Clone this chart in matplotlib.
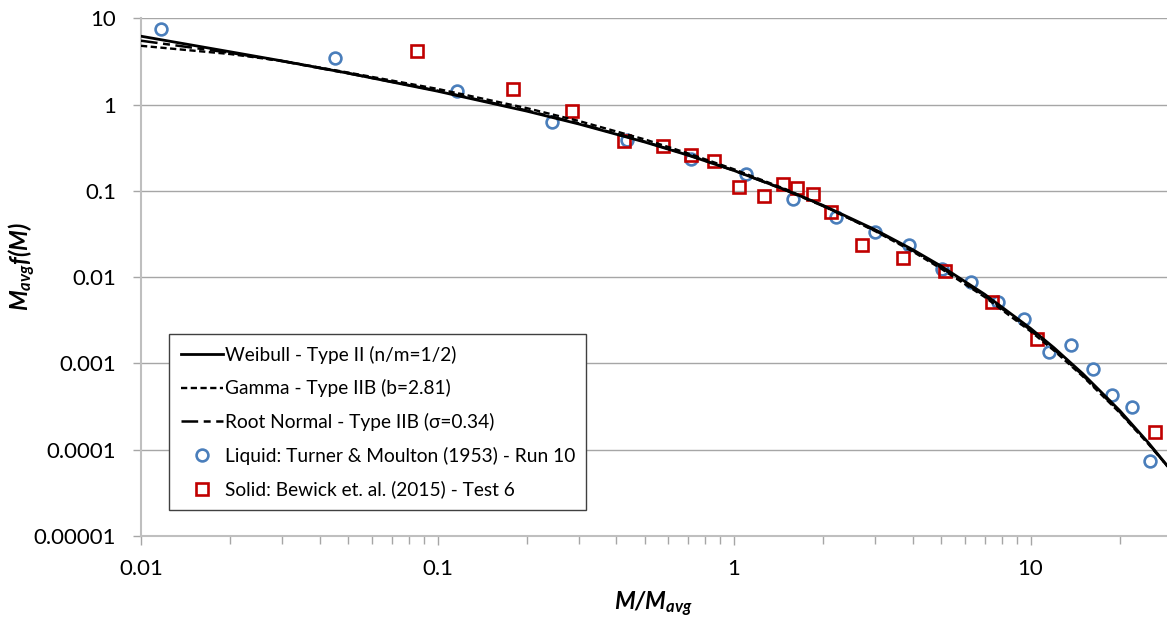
import matplotlib
matplotlib.use("Agg")
import matplotlib.pyplot as plt
from matplotlib.lines import Line2D

# ---------------- data ----------------
curve_x = [0.01, 0.02, 0.03, 0.05, 0.1, 0.2, 0.3, 0.5, 0.7, 1, 1.5, 2, 3, 4, 5, 7,
           10, 12, 15, 20, 25, 29]
weibull_y = [6.2, 4.09, 3.2, 2.31, 1.43, 0.84, 0.595, 0.368, 0.259, 0.172, 0.102,
             0.0677, 0.0353, 0.0209, 0.0134, 0.00634, 0.00255, 0.00152, 0.000762,
             0.000284, 0.000120, 0.0000646]
gamma_y = [4.8, 3.85, 3.2, 2.35, 1.52, 0.91, 0.645, 0.395, 0.272, 0.178, 0.104,
           0.067, 0.0340, 0.0199, 0.0125, 0.0059, 0.00236, 0.00141, 0.00071,
           0.000268, 0.000116, 0.0000640]
rootnormal_y = [5.5, 3.98, 3.18, 2.30, 1.45, 0.855, 0.605, 0.372, 0.261, 0.172, 0.101,
                0.0665, 0.0345, 0.0204, 0.0129, 0.0061, 0.00244, 0.00146, 0.00073,
                0.000274, 0.000118, 0.0000640]

liquid_x = [0.0117, 0.0451, 0.1165, 0.243, 0.4365, 0.7145, 1.098, 1.585, 2.203, 2.99,
            3.90, 5.04, 6.30, 7.79, 9.53, 11.52, 13.66, 16.21, 18.88, 21.94, 25.3]
liquid_y = [7.58, 3.50, 1.449, 0.634, 0.389, 0.234, 0.1557, 0.0806, 0.0502, 0.0337,
            0.0236, 0.01235, 0.00887, 0.0052, 0.00328, 0.00137, 0.00164, 0.000864,
            0.000435, 0.000313, 0.0000736]

solid_x = [0.0851, 0.180, 0.285, 0.4266, 0.5746, 0.7145, 0.856, 1.037, 1.265, 1.466,
           1.635, 1.842, 2.124, 2.708, 3.724, 5.15, 7.41, 10.54, 26.3]
solid_y = [4.18, 1.504, 0.850, 0.382, 0.3314, 0.2627, 0.2203, 0.1119, 0.0873, 0.1193,
           0.1072, 0.0928, 0.0565, 0.0238, 0.01656, 0.0118, 0.0052, 0.001907, 0.000162]

labels = ["Weibull - Type II (n/m=1/2)",
          "Gamma - Type IIB (b=2.81)",
          "Root Normal - Type IIB (\u03c3=0.34)",
          "Liquid: Turner & Moulton (1953) - Run 10",
          "Solid: Bewick et. al. (2015) - Test 6"]
ytick_vals = [1e-5, 1e-4, 1e-3, 1e-2, 1e-1, 1, 10]
ytick_labels = ["0.00001", "0.0001", "0.001", "0.01", "0.1", "1", "10"]
xtick_vals = [0.01, 0.1, 1, 10]
xtick_labels = ["0.01", "0.1", "1", "10"]

# ---------------- style ----------------
plt.rcParams['font.family'] = ['Lato', 'DejaVu Sans']
plt.rcParams['mathtext.fontset'] = 'custom'
plt.rcParams['mathtext.rm'] = 'Lato'
plt.rcParams['mathtext.it'] = 'Lato:italic'
plt.rcParams['mathtext.bf'] = 'Lato:bold'
plt.rcParams['mathtext.bfit'] = 'Lato:bold:italic'
plt.rcParams['lines.scale_dashes'] = False

W, H, DPI = 1167, 628, 100
fig = plt.figure(figsize=(W / DPI, H / DPI), dpi=DPI)
L, R, T, B = 141, 1167, 18.3, 536
ax = fig.add_axes([L / W, 1 - B / H, (R - L) / W, (B - T) / H])
ax.set_xscale('log')
ax.set_yscale('log')
ax.set_xlim(0.01, 10 ** (-2 + (R - L) / 296.5))
ax.set_ylim(1e-5, 10)

grid_c = '#a6a6a6'
ax.yaxis.grid(True, which='major', color=grid_c, lw=1.0, zorder=0)
ax.xaxis.grid(False)
ax.set_axisbelow(True)
for s in ['top', 'right']:
    ax.spines[s].set_visible(False)
for s in ['left', 'bottom']:
    ax.spines[s].set_color('#bfbfbf')
    ax.spines[s].set_linewidth(1.5)

ax.set_yticks(ytick_vals)
ax.set_yticklabels(ytick_labels)
ax.yaxis.set_minor_locator(matplotlib.ticker.NullLocator())
ax.set_xticks(xtick_vals)
ax.set_xticklabels(xtick_labels)
ax.tick_params(axis='y', which='major', direction='out', length=6, width=1,
               color=grid_c, labelsize=16, pad=12)
ax.tick_params(axis='x', which='major', direction='out', length=6.5, width=1,
               color=grid_c, labelsize=16, pad=10)
ax.tick_params(axis='x', which='minor', direction='out', length=5.5, width=1,
               color=grid_c)
ax.xaxis.set_minor_formatter(matplotlib.ticker.NullFormatter())

blue = '#4a7ebb'
red = '#c00000'
ax.plot(liquid_x, liquid_y, ls='none', marker='o', ms=8.5, mew=1.9,
        mfc='none', mec=blue, zorder=3)
ax.plot(solid_x, solid_y, ls='none', marker='s', ms=8.5, mew=1.9,
        mfc='none', mec=red, zorder=4)
ax.plot(curve_x, rootnormal_y, color='black', lw=1.8, dashes=(12, 4, 5, 4), zorder=5)
ax.plot(curve_x, gamma_y, color='black', lw=1.7, dashes=(4.5, 2.5), zorder=5)
ax.plot(curve_x, weibull_y, color='black', lw=2.0, zorder=6)

ax.set_xlabel(r'$\mathbfit{M/M_{avg}}$', fontsize=17, labelpad=8)
ax.set_ylabel(r'$\mathbfit{M_{avg}f(M)}$', fontsize=17)
ax.yaxis.set_label_coords((38 - L) / (R - L), 0.52)

handles = [
    Line2D([], [], color='black', lw=2.0),
    Line2D([], [], color='black', lw=1.7, dashes=(4.5, 2.5)),
    Line2D([], [], color='black', lw=1.8, dashes=(12, 4, 5, 4)),
    Line2D([], [], ls='none', marker='o', ms=8.5, mew=1.9, mfc='none', mec=blue),
    Line2D([], [], ls='none', marker='s', ms=8.5, mew=1.9, mfc='none', mec=red),
]
leg = ax.legend(handles, labels, loc='lower left',
                bbox_to_anchor=((169 - L) / (R - L), (B - 510) / (B - T)),
                borderaxespad=0, fontsize=13.8, frameon=True, fancybox=False,
                edgecolor='#404040', framealpha=1, handlelength=2.2,
                handletextpad=0.1, labelspacing=0.82, borderpad=0.6)
leg.get_frame().set_linewidth(1.0)
leg.set_zorder(10)

fig.savefig('out.png', dpi=DPI)
